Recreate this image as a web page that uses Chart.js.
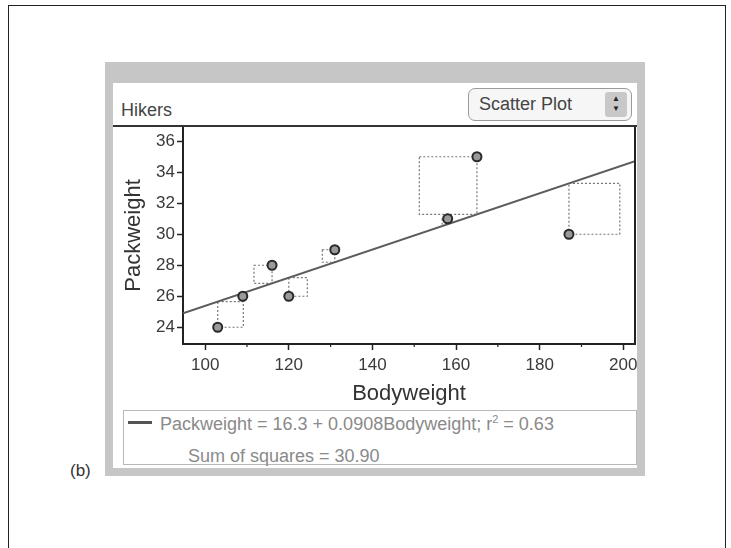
<!DOCTYPE html>
<html>
<head>
<meta charset="utf-8">
<script src="https://cdn.jsdelivr.net/npm/chart.js@4.4.1/dist/chart.umd.min.js"></script>
<style>
  html, body { margin: 0; padding: 0; background: #fff; }
  body { width: 731px; height: 548px; position: relative; overflow: hidden; font-family: "Liberation Sans", Arial, sans-serif; }
  #page { position: absolute; left: 8px; top: 5px; width: 716px; height: 600px; border: 1.5px solid #222; border-bottom: none; }
  #win { position: absolute; left: 105px; top: 62px; width: 524px; height: 385px; border-style: solid; border-color: #c6c6c6; border-width: 21px 8px 8px 8px; z-index: 3; pointer-events: none; }
  #sep { position: absolute; left: 113px; top: 125px; width: 524px; height: 2px; background: #333; z-index: 2; }
  #title { position: absolute; left: 121px; top: 99px; font-size: 18px; line-height: 22px; color: #444; }
  #menu { position: absolute; left: 468px; top: 88px; width: 162px; height: 31px; border: 1px solid #9a9a9a; border-radius: 7px; background: #f6f6f6; }
  #menu span.txt { position: absolute; left: 10px; top: 0; font-size: 18px; line-height: 31px; color: #444; }
  #menu span.step { position: absolute; right: 4px; top: 3px; width: 22px; height: 25px; background: #c8c8c8; border-radius: 3px; font-size: 8px; line-height: 10px; text-align: center; color: #222; padding-top: 2px; box-sizing: border-box; }
  #legend { position: absolute; left: 123px; top: 410px; width: 512px; height: 53px; border: 1px solid #b8b8b8; }
  #swatch { position: absolute; left: 128px; top: 421px; width: 24px; height: 3px; background: #555; }
  .ltxt { position: absolute; font-size: 18px; line-height: 22px; color: #8a8a8a; white-space: nowrap; }
  #lab { position: absolute; left: 70px; top: 460px; font-size: 17px; line-height: 22px; color: #333; }
  #chart { position: absolute; left: 0; top: 0; z-index: 1; }
</style>
</head>
<body>
<div id="page"></div>
<div id="win"></div>
<div id="sep"></div>
<div id="title">Hikers</div>
<div id="menu"><span class="txt">Scatter Plot</span><span class="step">▲<br>▼</span></div>
<div id="legend"></div>
<div id="swatch"></div>
<div class="ltxt" style="left:160px; top:413px;">Packweight = 16.3 + 0.0908Bodyweight; r<sup style="font-size:11px; line-height:0;">2</sup> = 0.63</div>
<div class="ltxt" style="left:188px; top:445px;">Sum of squares = 30.90</div>
<div id="lab">(b)</div>
<canvas id="chart" width="731" height="548"></canvas>
<script>
// hikers data
const bodyweight = [103, 109, 116, 120, 131, 158, 165, 187];
const packweight = [24, 26, 28, 26, 29, 31, 35, 30];

// fit shown in the legend
const intercept = 16.3;
const slope = 0.0908;

const xTicks = [100, 120, 140, 160, 180, 200];
const xMinorTicks = [110, 130, 150, 170, 190];
const yTicks = [24, 26, 28, 30, 32, 34, 36];

const xMin = 94.7, xMax = 202.8;
const yMin = 22.92, yMax = 36.92;

function fitY(x){
    return intercept + slope * x;
}

const fathomExtras = {
    id: 'fathomExtras',
    beforeDatasetsDraw(chart) {
        const {ctx, scales: {x, y}} = chart;
        ctx.save();
        ctx.strokeStyle = '#777';
        ctx.lineWidth = 1.2;
        ctx.setLineDash([2, 2]);
        bodyweight.forEach((bw, i) => {
            let px = x.getPixelForValue(bw);
            let py = y.getPixelForValue(packweight[i]);
            let ly = y.getPixelForValue(fitY(bw));
            let side = Math.abs(py - ly);
            let left = packweight[i] > fitY(bw) ? px - side : px;
            ctx.strokeRect(left, Math.min(py, ly), side, side);
        });
        ctx.restore();
    },
    afterDraw(chart) {
        const {ctx, chartArea: a, scales: {x}} = chart;
        ctx.save();
        ctx.strokeStyle = '#222';
        ctx.lineWidth = 2;
        ctx.beginPath();
        ctx.moveTo(a.right, a.top - 1);
        ctx.lineTo(a.right, a.bottom + 1);
        ctx.stroke();
        ctx.lineWidth = 1.2;
        for (let v of xMinorTicks) {
            let px = x.getPixelForValue(v);
            ctx.beginPath();
            ctx.moveTo(px, a.bottom);
            ctx.lineTo(px, a.bottom + 3);
            ctx.stroke();
        }
        ctx.restore();
    }
};

let ctx = document.getElementById('chart').getContext('2d');
new Chart(ctx, {
    type: 'scatter',
    data: {
        datasets: [{
            data: bodyweight.map((bw, i) => ({x: bw, y: packweight[i]})),
            pointRadius: 4.5,
            pointBackgroundColor: '#9a9a9a',
            pointBorderColor: '#2a2a2a',
            pointBorderWidth: 2
        }, {
            data: [{x: xMin, y: fitY(xMin)}, {x: xMax, y: fitY(xMax)}],
            showLine: true,
            pointRadius: 0,
            borderColor: '#5c5c5c',
            borderWidth: 2
        }]
    },
    options: {
        responsive: false,
        animation: false,
        layout: { padding: { left: 105, top: 127, right: 96, bottom: 138 } },
        plugins: { legend: { display: false }, tooltip: { enabled: false } },
        scales: {
            x: {
                type: 'linear',
                min: xMin,
                max: xMax,
                afterBuildTicks: scale => { scale.ticks = xTicks.map(v => ({value: v})); },
                afterFit: scale => { scale.height = 66; scale.paddingLeft = 0; scale.paddingRight = 0; },
                border: { color: '#222', width: 2 },
                grid: { drawOnChartArea: false, tickLength: 6, tickColor: '#222', tickWidth: 1.5 },
                ticks: { color: '#3a3a3a', font: { family: 'Liberation Sans', size: 17 }, padding: 5, maxRotation: 0, autoSkip: false },
                title: { display: true, text: 'Bodyweight', color: '#333', font: { family: 'Liberation Sans', size: 22 }, padding: { top: 0, bottom: 3 } }
            },
            y: {
                type: 'linear',
                min: yMin,
                max: yMax,
                afterBuildTicks: scale => { scale.ticks = yTicks.map(v => ({value: v})); },
                afterFit: scale => { scale.width = 78; },
                border: { color: '#222', width: 2 },
                grid: { drawOnChartArea: false, tickLength: 6, tickColor: '#222', tickWidth: 1.5 },
                ticks: { color: '#3a3a3a', font: { family: 'Liberation Sans', size: 17 }, padding: 2 },
                title: { display: true, text: 'Packweight', color: '#333', font: { family: 'Liberation Sans', size: 22 }, padding: { top: 16, bottom: 0 } }
            }
        }
    },
    plugins: [fathomExtras]
});
</script>
</body>
</html>
